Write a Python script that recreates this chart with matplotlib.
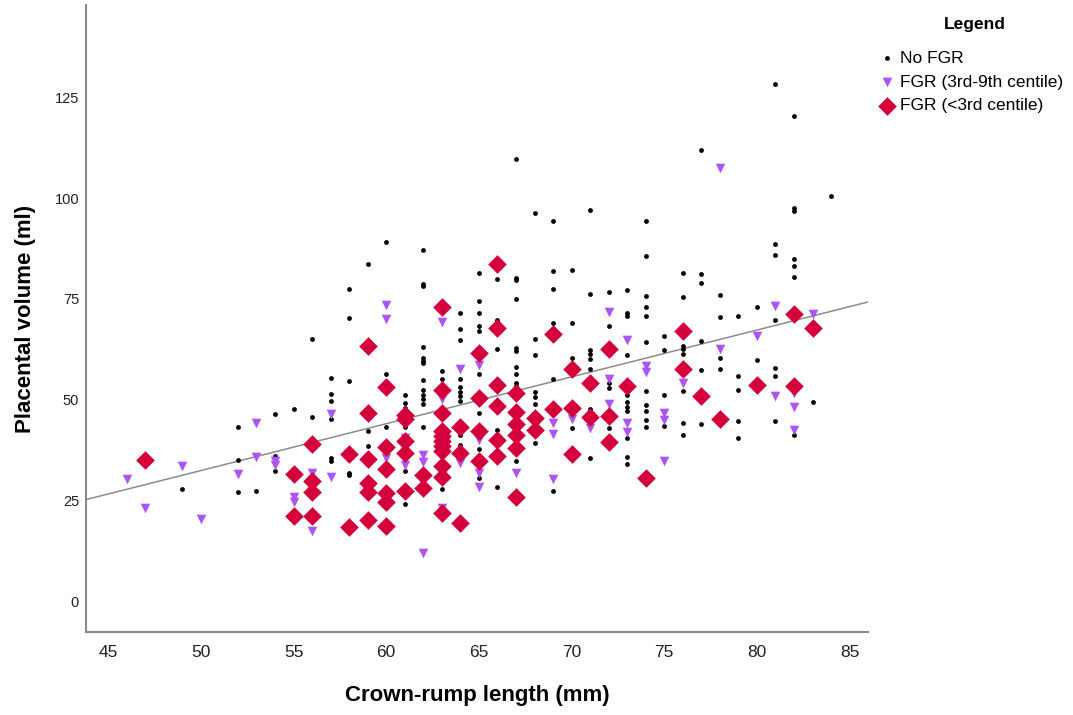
import matplotlib
matplotlib.use("Agg")
import matplotlib.pyplot as plt
import numpy as np

plt.rcParams['font.family'] = ['Liberation Sans', 'DejaVu Sans']

# ---------------- data ----------------
# No FGR (black dots): crown-rump length (mm) -> placental volume (ml)
nofgr = {
    49: [27.8],
    52: [43.1, 34.9, 27.2],
    53: [27.4],
    54: [46.4, 36.1, 32.2],
    55: [47.7],
    56: [65.1, 45.6, 32.2],
    57: [55.4, 51.5, 49.6, 45.1, 35.5, 34.8],
    58: [77.4, 70.4, 54.7, 31.9, 31.2],
    59: [83.8, 42.1, 38.6],
    60: [89.1, 56.3, 43.1],
    61: [51.1, 49.2, 47.9, 43.2, 32.2, 24.1],
    62: [87.1, 78.8, 78.2, 63.0, 60.4, 59.5, 59.0, 55.0, 52.4, 51.1, 50.1, 48.9, 43.2],
    63: [57.0, 55.2, 27.8],
    64: [71.4, 67.6, 64.8, 55.2, 53.1, 51.9, 50.9, 49.6, 41.2, 38.8],
    65: [81.5, 74.4, 71.4, 68.2, 67.0, 56.5, 46.8, 37.8, 30.5],
    66: [80.0, 69.9, 62.6, 42.4, 28.4],
    67: [109.7, 80.3, 79.7, 74.9, 62.8, 62.2, 58.2, 56.4, 54.2, 53.4, 34.7],
    68: [96.4, 65.1, 61.2, 52.0, 50.6, 49.0, 41.7, 39.3],
    69: [94.3, 81.9, 77.5, 69.1, 55.2, 27.4],
    70: [82.2, 69.1, 60.4, 43.0],
    71: [97.0, 76.2, 62.4, 61.3, 60.0, 57.6, 47.7, 35.5],
    72: [76.7, 68.2, 54.2, 52.9, 43.0],
    73: [77.3, 71.6, 70.7, 61.0, 51.2, 49.5, 48.2, 47.3, 40.5, 35.7, 34.1],
    74: [94.3, 85.6, 75.7, 72.9, 70.9, 64.3, 52.2, 48.8, 47.1, 44.9, 43.3],
    75: [65.7, 62.3, 51.2, 43.4],
    76: [81.5, 75.5, 63.3, 62.5, 61.4, 52.2, 44.1, 41.3],
    77: [111.9, 81.3, 79.0, 64.5, 57.3, 43.9],
    78: [76.1, 70.5, 60.4, 57.6],
    79: [70.7, 55.8, 52.3, 44.7, 40.4],
    80: [73.0, 59.8],
    81: [128.4, 88.6, 85.9, 69.9, 57.8, 56.0, 44.6],
    82: [120.5, 97.7, 96.9, 85.0, 83.2, 80.5, 41.3],
    83: [49.4],
    84: [100.6],
}

# FGR (3rd-9th centile) (purple triangles)
fgr_3_9 = {
    46: [30.3],
    47: [23.0],
    49: [33.6],
    50: [20.3],
    52: [31.5],
    53: [44.3, 35.7],
    54: [34.8, 33.8],
    55: [25.9, 24.7],
    56: [31.8, 17.3],
    57: [46.5, 30.9],
    60: [73.4, 70.0, 35.5],
    61: [40.4, 33.8],
    62: [36.2, 34.5, 11.9],
    63: [69.3, 50.1, 23.2],
    64: [57.6, 34.2],
    65: [58.7, 39.9, 31.9, 28.2],
    67: [31.9],
    69: [44.2, 41.4, 30.2],
    70: [45.1],
    71: [43.0],
    72: [71.7, 55.2, 49.0],
    73: [64.9, 44.2, 41.9],
    74: [58.3, 56.8],
    75: [46.7, 45.0, 34.7],
    76: [54.1],
    78: [107.6, 62.7],
    80: [65.7],
    81: [73.2, 51.0],
    82: [51.7, 48.1, 42.5],
    83: [71.3],
}

# FGR (<3rd centile) (red diamonds)
fgr_lt3 = {
    47: [35.1],
    55: [31.6, 21.2],
    56: [39.0, 29.7, 27.2, 21.1],
    58: [36.6, 18.4],
    59: [63.3, 46.7, 35.2, 29.2, 27.0, 20.1],
    60: [53.2, 38.3, 32.7, 26.9, 24.5, 18.7],
    61: [46.2, 45.3, 39.8, 36.7, 27.4],
    62: [31.2, 28.0],
    63: [73.0, 52.5, 46.7, 42.3, 41.1, 39.8, 38.6, 37.3, 33.6, 30.9, 21.8],
    64: [43.1, 36.7, 19.3],
    65: [61.7, 50.4, 42.2, 34.8],
    66: [83.6, 67.8, 53.7, 48.5, 40.1, 36.0],
    67: [51.7, 46.9, 44.0, 41.2, 37.9, 25.9],
    68: [45.4, 42.5],
    69: [66.4, 47.8],
    70: [57.5, 47.9, 36.6],
    71: [54.1, 45.6],
    72: [62.6, 46.0, 39.4],
    73: [53.3],
    74: [30.5],
    76: [67.0, 57.5],
    77: [51.0],
    78: [45.3],
    80: [53.7],
    82: [71.3, 53.4],
    83: [67.7],
}

x_ticks = [45, 50, 55, 60, 65, 70, 75, 80, 85]
y_ticks = [0, 25, 50, 75, 100, 125]
labels = ["No FGR", "FGR (3rd-9th centile)", "FGR (<3rd centile)"]


def flatten(d):
    xs, ys = [], []
    for k, vals in d.items():
        for v in vals:
            xs.append(k)
            ys.append(v)
    return np.array(xs, float), np.array(ys, float)


x0, y0 = flatten(nofgr)
x1, y1 = flatten(fgr_3_9)
x2, y2 = flatten(fgr_lt3)

# ---------------- figure ----------------
fig = plt.figure(figsize=(10.73, 7.15), dpi=100)
ax = fig.add_axes([0.0801, 0.116, 0.729, 0.877])

col_black = "#000000"
col_purple = "#AD55F2"
col_red = "#D5003B"

h0 = ax.scatter(x0, y0, s=12, c=col_black, marker="o", linewidths=0, zorder=3)
h1 = ax.scatter(x1, y1, s=48, c=col_purple, marker="v", linewidths=0, zorder=4)
h2 = ax.scatter(x2, y2, s=90, c=col_red, marker="D", linewidths=0, zorder=5)

xlim = (43.8, 86.0)
ylim = (-7.7, 148)

# linear fit on all points
xa = np.concatenate([x0, x1, x2])
ya = np.concatenate([y0, y1, y2])
b, a = np.polyfit(xa, ya, 1)
xl = np.array(xlim)
ax.plot(xl, a + b * xl, color="#8c8c8c", lw=1.1, zorder=2)

ax.set_xlim(*xlim)
ax.set_ylim(*ylim)
ax.set_xticks(x_ticks)
ax.set_yticks(y_ticks)
ax.tick_params(axis="both", length=0, colors="#222222")
ax.tick_params(axis="x", pad=9, labelsize=12.5)
ax.tick_params(axis="y", pad=5, labelsize=10.5)

for s in ["top", "right"]:
    ax.spines[s].set_visible(False)
for s in ["left", "bottom"]:
    ax.spines[s].set_color("#8a8a8a")
    ax.spines[s].set_linewidth(1.5)

ax.set_xlabel("Crown-rump length (mm)", fontsize=16, fontweight="bold", labelpad=18)
ax.set_ylabel("Placental volume (ml)", fontsize=16, fontweight="bold", labelpad=13)

fig.text(975 / 1073, 1 - 25 / 715, "Legend", ha="center", va="center",
         fontsize=12.5, fontweight="bold")
leg = fig.legend([h0, h1, h2], labels, loc="upper left",
                 bbox_to_anchor=(0.8117, 0.939), frameon=False,
                 fontsize=12.5, handletextpad=0.3,
                 labelspacing=0.5, borderaxespad=0.0, handlelength=1.0,
                 scatterpoints=1)

fig.savefig("out.png", dpi=100)
